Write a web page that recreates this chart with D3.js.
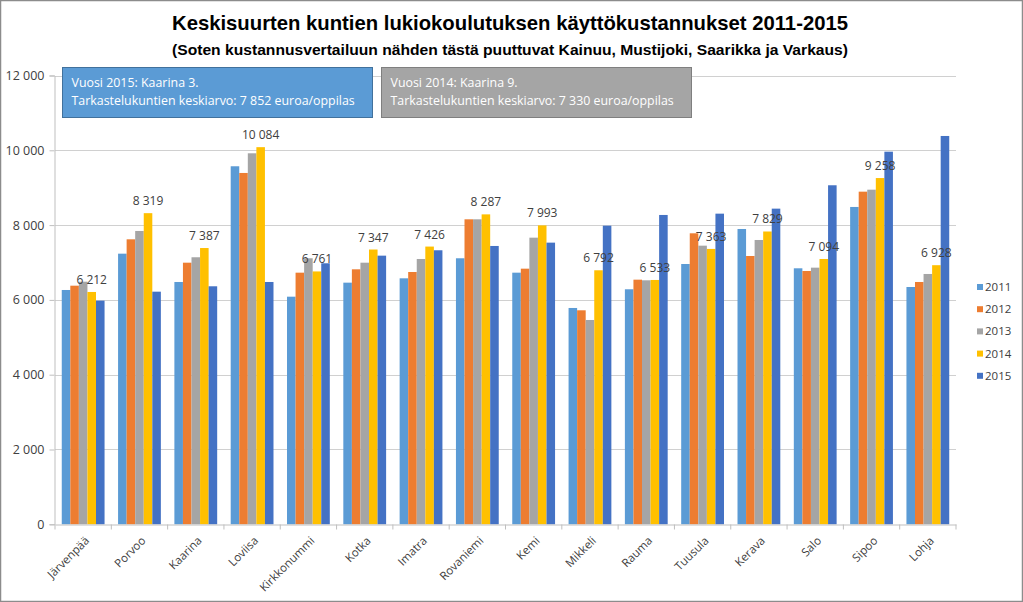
<!DOCTYPE html>
<html><head><meta charset="utf-8">
<script src="https://cdn.jsdelivr.net/npm/d3@7"></script>
<style>body{margin:0;background:#fff}svg{display:block}</style>
</head><body>
<svg id="c" width="1023" height="602"></svg>
<script>
const categories = ["Järvenpää","Porvoo","Kaarina","Loviisa","Kirkkonummi","Kotka","Imatra","Rovaniemi","Kemi","Mikkeli","Rauma","Tuusula","Kerava","Salo","Sipoo","Lohja"];
const years = ["2011","2012","2013","2014","2015"];
const v2011 = [6265,7236,6479,9573,6086,6461,6577,7113,6728,5784,6284,6960,7896,6845,8485,6345];
const v2012 = [6380,7620,6995,9394,6728,6818,6746,8155,6835,5722,6541,7781,7174,6773,8894,6479];
const v2013 = [6487,7843,7140,9920,7113,6995,7094,8155,7664,5463,6524,7450,7602,6862,8947,6693];
const v2014 = [6212,8319,7387,10084,6761,7347,7426,8287,7993,6792,6533,7363,7829,7094,9258,6928];
const v2015 = [5980,6220,6364,6479,6979,7183,7327,7442,7531,7985,8271,8306,8440,9065,9963,10383];
const yTicks = [0,2000,4000,6000,8000,10000,12000];
const boxTexts = [["Vuosi 2015: Kaarina 3.","Tarkastelukuntien keskiarvo: 7 852 euroa/oppilas"],
                  ["Vuosi 2014: Kaarina 9.","Tarkastelukuntien keskiarvo: 7 330 euroa/oppilas"]];
const title = "Keskisuurten kuntien lukiokoulutuksen käyttökustannukset 2011-2015";
const subtitle = "(Soten kustannusvertailuun nähden tästä puuttuvat Kainuu, Mustijoki, Saarikka ja Varkaus)";

const series = [v2011,v2012,v2013,v2014,v2015];
const colors = ["#5B9BD5","#ED7D31","#A5A5A5","#FFC000","#4472C4"];
const fmt = v => d3.format(",")(v).replace(/,/g," ");
const font = "'Open Sans', 'Noto Sans', sans-serif";

const svg = d3.select("#c");
svg.append("rect").attr("x",0.5).attr("y",0.5).attr("width",1022).attr("height",601)
  .attr("fill","#fff").attr("stroke","#8c8c8c").attr("stroke-width",1.5);

const x0 = d3.scaleBand().domain(categories).range([55,956]).paddingInner(0).paddingOuter(0);
const groupPad = 0.12;
const x1 = d3.scaleBand().domain(years).range([x0.bandwidth()*groupPad, x0.bandwidth()*(1-groupPad)]);
const y = d3.scaleLinear().domain([0,12000]).range([524.3,75.5]);

// gridlines
svg.append("g").selectAll("line").data(yTicks.slice(1)).join("line")
  .attr("x1",55).attr("x2",956).attr("y1",d=>Math.round(y(d))+0.5).attr("y2",d=>Math.round(y(d))+0.5)
  .attr("stroke","#d0d0d0").attr("stroke-width",1);

// y axis
const yAxis = svg.append("g").attr("transform","translate(54.5,0)")
  .call(d3.axisLeft(y).tickValues(yTicks).tickSize(5).tickPadding(5).tickFormat(fmt));
yAxis.select(".domain").attr("stroke","#bfbfbf");
yAxis.selectAll(".tick line").attr("stroke","#bfbfbf");
yAxis.selectAll("text").attr("font-family",font).attr("font-size",12.5).attr("fill","#404040");

// bars
const g = svg.append("g");
categories.forEach((c,i)=>{
  years.forEach((yr,j)=>{
    g.append("rect")
      .attr("x",x0(c)+x1(yr)).attr("width",x1.bandwidth())
      .attr("y",y(series[j][i])).attr("height",y(0)-y(series[j][i]))
      .attr("fill",colors[j]);
  });
});

// x axis
const xAxis = svg.append("g").attr("transform","translate(0,"+(Math.round(y(0))+0.5)+")")
  .call(d3.axisBottom(x0).tickSize(0).tickPadding(6));
xAxis.select(".domain").attr("stroke","#bfbfbf");
xAxis.selectAll(".bt").data(d3.range(categories.length+1)).join("line").attr("class","bt")
  .attr("x1",i=>55+i*x0.step()).attr("x2",i=>55+i*x0.step()).attr("y1",0).attr("y2",5).attr("stroke","#bfbfbf");
xAxis.selectAll(".tick text")
  .attr("font-family",font).attr("font-size",11.5).attr("fill","#404040")
  .attr("text-anchor","end").attr("y",0).attr("dy","0.35em")
  .attr("transform","translate(4,14) rotate(-45)");

// data labels on 2014
svg.append("g").selectAll("text").data(categories).join("text")
  .attr("x",(c)=>x0(c)+x1("2014")+x1.bandwidth()/2)
  .attr("y",(c,i)=>y(v2014[i])-8)
  .attr("text-anchor","middle").attr("font-family",font).attr("font-size",12).attr("fill","#404040")
  .text((c,i)=>fmt(v2014[i]));

// info boxes
const boxes = [{x:62.5,fill:"#5B9BD5",stroke:"#41719C",tc:"#fff"},{x:381.5,fill:"#A5A5A5",stroke:"#7F7F7F",tc:"#fff"}];
boxes.forEach((b,k)=>{
  svg.append("rect").attr("x",b.x).attr("y",67.5).attr("width",310).attr("height",50)
    .attr("fill",b.fill).attr("stroke",b.stroke).attr("stroke-width",1);
  boxTexts[k].forEach((t,l)=>{
    svg.append("text").attr("x",b.x+9).attr("y",87+l*18).attr("font-family",font)
      .attr("font-size",12.4).attr("fill",b.tc).text(t);
  });
});

// title
svg.append("text").attr("x",510).attr("y",30).attr("text-anchor","middle")
  .attr("font-family","'Liberation Sans Narrow','Liberation Sans',sans-serif").attr("font-weight","bold")
  .attr("font-size",21).attr("fill","#000")
  .attr("textLength",676).attr("lengthAdjust","spacingAndGlyphs").text(title);
svg.append("text").attr("x",510).attr("y",55).attr("text-anchor","middle")
  .attr("font-family","'Liberation Sans Narrow','Liberation Sans',sans-serif").attr("font-weight","bold")
  .attr("font-size",15).attr("fill","#000")
  .attr("textLength",676).attr("lengthAdjust","spacingAndGlyphs").text(subtitle);

// legend
const lg = svg.append("g");
years.forEach((yr,j)=>{
  const cy = 287 + j*22.2;
  lg.append("rect").attr("x",977).attr("y",cy-3).attr("width",6).attr("height",6).attr("fill",colors[j]);
  lg.append("text").attr("x",985).attr("y",cy).attr("dy","0.35em").attr("font-family",font)
    .attr("font-size",11.5).attr("fill","#404040").text(yr);
});
</script>
</body></html>
